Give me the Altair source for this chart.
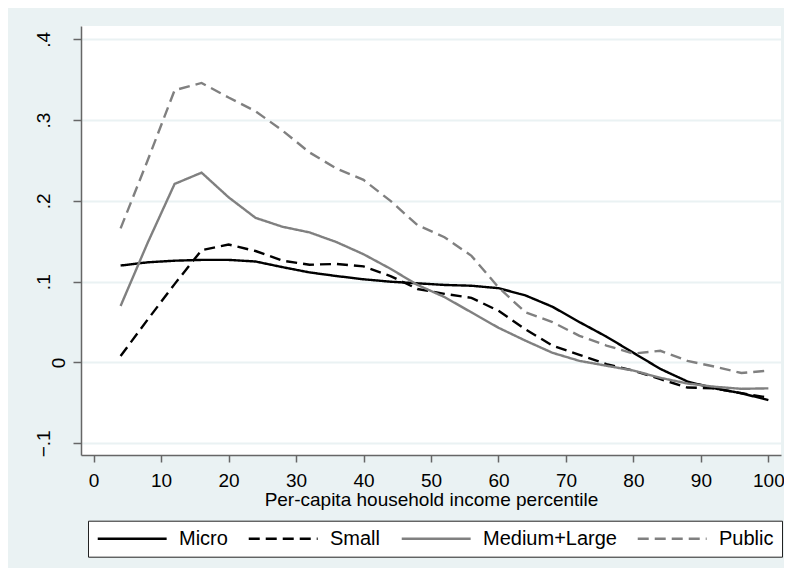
import altair as alt
import pandas as pd

pct = [4, 8, 12, 16, 20, 24, 28, 32, 36, 40, 44, 48, 52, 56, 60, 64, 68, 72, 76, 80, 84, 88, 92, 96, 100]
micro = [0.120, 0.124, 0.126, 0.127, 0.127, 0.125, 0.118, 0.1115, 0.107, 0.103, 0.100, 0.098, 0.096,
         0.095, 0.092, 0.083, 0.069, 0.050, 0.032, 0.012, -0.008, -0.0235, -0.032, -0.038, -0.0466]
small = [0.008, 0.053, 0.097, 0.139, 0.146, 0.138, 0.126, 0.121, 0.122, 0.119, 0.107, 0.091, 0.085,
         0.080, 0.064, 0.041, 0.021, 0.0095, -0.002, -0.010, -0.0206, -0.031, -0.032, -0.038, -0.0434]
medium = [0.070, 0.148, 0.221, 0.235, 0.2045, 0.179, 0.168, 0.161, 0.149, 0.134, 0.116, 0.096, 0.081,
          0.062, 0.043, 0.027, 0.012, 0.002, -0.004, -0.010, -0.019, -0.026, -0.030, -0.0326, -0.032]
public = [0.166, 0.250, 0.337, 0.346, 0.328, 0.311, 0.287, 0.260, 0.240, 0.226, 0.200, 0.170, 0.155,
          0.132, 0.093, 0.062, 0.050, 0.033, 0.021, 0.011, 0.0145, 0.002, -0.005, -0.013, -0.010]

series_names = ["Micro", "Small", "Medium+Large", "Public"]
series_values = [micro, small, medium, public]
x_ticks = [0, 10, 20, 30, 40, 50, 60, 70, 80, 90, 100]
y_ticks = [-0.1, 0.0, 0.1, 0.2, 0.3, 0.4]

rows = []
for name, vals in zip(series_names, series_values):
    for p, v in zip(pct, vals):
        rows.append({"pct": p, "value": v, "group": name})
df = pd.DataFrame(rows)

FONT = "Liberation Sans"
BG = "#EAF2F3"
GRAY = "#808080"


def make_legend():
    return alt.Legend(title=None, orient="none", legendX=7, legendY=494.7,
                      direction="horizontal", columns=4,
                      symbolType="M-1.2,0H8.8", symbolSize=190,
                      symbolStrokeWidth=2.6, labelFontSize=20,
                      labelFont=FONT, labelColor="black", labelOffset=63,
                      columnPadding=15, padding=8, strokeColor="#222222",
                      fillColor="white")


y_label_padding = {
    "condition": {"test": "datum.value == 0", "value": 9},
    "value": 24,
}

chart = alt.Chart(df).mark_line(strokeWidth=2.4).encode(
    x=alt.X("pct:Q",
            scale=alt.Scale(domain=[-1.87, 101.87], nice=False, zero=False),
            axis=alt.Axis(values=x_ticks, title="Per-capita household income percentile",
                          grid=False, tickSize=7, labelPadding=9, titlePadding=0,
                          labelFontSize=19, titleFontSize=19)),
    y=alt.Y("value:Q",
            scale=alt.Scale(domain=[-0.1145, 0.4165], nice=False, zero=False),
            axis=alt.Axis(values=y_ticks, title=None, grid=True, gridColor=BG, gridWidth=2,
                          tickSize=8, labelAngle=270, labelAlign="center",
                          labelBaseline="alphabetic",
                          labelPadding=y_label_padding, labelFontSize=19,
                          labelExpr="datum.value == 0 ? '0' : replace(format(datum.value, '.1f'), '0.', '.')")),
    color=alt.Color("group:N",
                    scale=alt.Scale(domain=series_names, range=["black", "black", GRAY, GRAY]),
                    legend=make_legend()),
    strokeDash=alt.StrokeDash("group:N",
                              scale=alt.Scale(domain=series_names,
                                              range=[[1, 0], [11, 6], [1, 0], [11, 6]]),
                              legend=make_legend()),
    order=alt.Order("pct:Q"),
).properties(
    width=700, height=429,
    autosize=alt.AutoSizeParams(type="none"),
    padding={"left": 73, "top": 18, "right": 3, "bottom": 113},
    background=BG,
).configure_view(
    fill="white", strokeWidth=0
).configure_axis(
    labelFont=FONT, titleFont=FONT, labelColor="black", titleColor="black",
    titleFontWeight="normal", domainColor="#666666", domainWidth=1.5,
    tickColor="#666666", tickWidth=1.5
)

chart.save("out.html", embed_options={"renderer": "svg", "actions": False})
